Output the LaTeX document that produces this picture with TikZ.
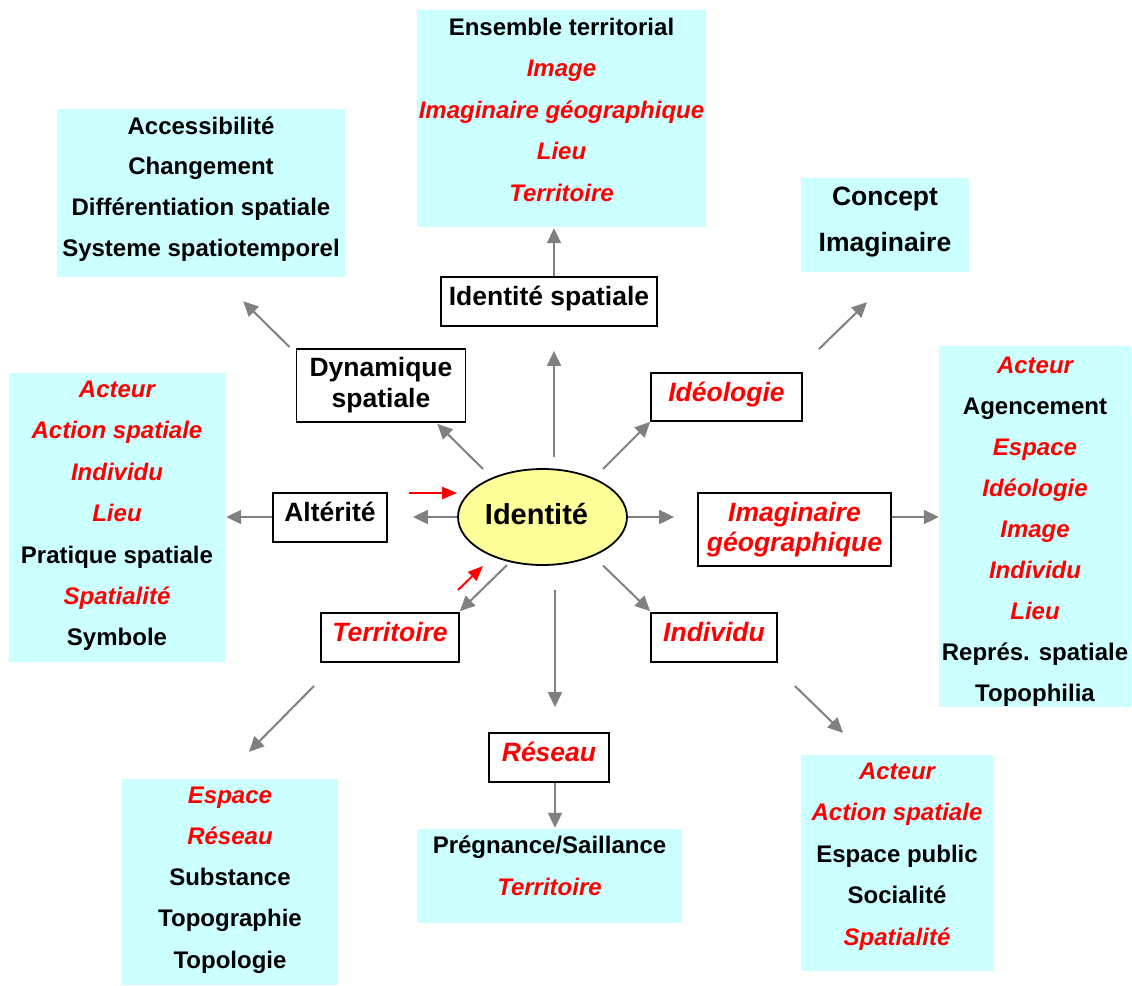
\documentclass[tikz,border=0pt]{standalone}
\usepackage{fontspec}
\setmainfont{Liberation Sans}
\usetikzlibrary{arrows.meta,shapes.geometric,calc}
\definecolor{cyanfill}{HTML}{CCFFFF}
\definecolor{yelfill}{HTML}{FFFF99}
\definecolor{arrgray}{HTML}{808080}
\definecolor{txtred}{HTML}{FF0000}
\newcommand\rtxt[1]{{\color{txtred}\itshape #1}}
\newcommand\stk[2]{\vtop{\baselineskip=#1\lineskiplimit=-1000pt\lineskip=0pt\tabskip=0pt\halign{\hfil##\hfil\cr#2\crcr}}}
\newcommand\strt{\rule[-6pt]{0pt}{25pt}}
\tikzset{
  cbox/.style={rectangle, fill=cyanfill, draw=none, inner sep=0pt},
  wbox/.style={rectangle, draw=black, line width=1.8pt, fill=white, inner sep=0pt,
    font=\fontsize{26.5pt}{30pt}\selectfont\bfseries},
  wone/.style={text height=17pt, text depth=9pt},
  ltext/.style={anchor=base, inner sep=0pt, font=\fontsize{24pt}{41.3pt}\selectfont\bfseries},
  arr/.style={draw=arrgray, line width=2pt, -{Triangle[length=15pt,width=14pt]}},
  rarr/.style={draw=txtred, line width=2pt, -{Triangle[length=15pt,width=12pt]}}
}
\begin{document}
\begin{tikzpicture}[x=1pt,y=-1pt]
\useasboundingbox (0,0) rectangle (1132,985);
% cyan boxes
\node[cbox, minimum width=288pt, minimum height=168pt] (cTL) at (201,193) {};
\node[cbox, minimum width=289pt, minimum height=217pt] (cT) at (561.5,118.5) {};
\node[cbox, minimum width=168pt, minimum height=94pt] (cTR) at (885,225) {};
\node[cbox, minimum width=192pt, minimum height=361pt] (cR) at (1035,526.5) {};
\node[cbox, minimum width=216pt, minimum height=289pt] (cL) at (117,517.5) {};
\node[cbox, minimum width=216pt, minimum height=206pt] (cBL) at (230,882) {};
\node[cbox, minimum width=265pt, minimum height=94pt] (cB) at (549.5,876) {};
\node[cbox, minimum width=192pt, minimum height=216pt] (cBR) at (897,863) {};
% list texts
\node[ltext] (cTLt) at (201,134) {\stk{40.7pt}{Accessibilité\cr Changement\cr Différentiation spatiale\cr Systeme spatiotemporel}};
\node[ltext] (cTt) at (561.5,35) {\stk{41.6pt}{Ensemble territorial\cr\rtxt{Image}\cr\rtxt{Imaginaire géographique}\cr\rtxt{Lieu}\cr\rtxt{Territoire}}};
\node[ltext, font=\fontsize{26.5pt}{46.7pt}\selectfont\bfseries] (cTRt) at (885,205) {\stk{46.7pt}{Concept\cr Imaginaire}};
\node[ltext] (cLt) at (117,397.5) {\stk{41.4pt}{\rtxt{Acteur}\cr\rtxt{Action spatiale}\cr\rtxt{Individu}\cr\rtxt{Lieu}\cr Pratique spatiale\cr\rtxt{Spatialité}\cr Symbole}};
\node[ltext] (cRt) at (1035,373.5) {\stk{41pt}{\rtxt{Acteur}\cr Agencement\cr\rtxt{Espace}\cr\rtxt{Idéologie}\cr\rtxt{Image}\cr\rtxt{Individu}\cr\rtxt{Lieu}\cr Représ. spatiale\cr Topophilia}};
\node[ltext] (cBLt) at (230,803) {\stk{41.3pt}{\rtxt{Espace}\cr\rtxt{Réseau}\cr Substance\cr Topographie\cr Topologie}};
\node[ltext] (cBt) at (549.5,853.3) {\stk{41.7pt}{Prégnance/Saillance\cr\rtxt{Territoire}}};
\node[ltext] (cBRt) at (897,779) {\stk{41.5pt}{\rtxt{Acteur}\cr\rtxt{Action spatiale}\cr Espace public\cr Socialité\cr\rtxt{Spatialité}}};
% white boxes
\node[wbox, wone, minimum width=216pt, minimum height=49pt] (isp) at (549,301.5) {Identité spatiale};
\node[wbox, minimum width=169pt, minimum height=73pt] (dyn) at (381,385.5) {\stk{30.7pt}{\strt Dynamique\cr spatiale\strt}};
\node[wbox, wone, minimum width=151pt, minimum height=48pt] (ideo) at (726.5,397) {\rtxt{Idéologie}};
\node[wbox, minimum width=193pt, minimum height=73pt] (imag) at (794.5,529.5) {\stk{30pt}{\strt\rtxt{Imaginaire}\cr\rtxt{géographique}\strt}};
\node[wbox, wone, minimum width=126pt, minimum height=49pt] (indiv) at (714,637.5) {\rtxt{Individu}};
\node[wbox, wone, minimum width=114pt, minimum height=49pt] (alt) at (330,517.5) {Altérité};
\node[wbox, wone, minimum width=138pt, minimum height=49pt] (terr) at (390,637.5) {\rtxt{Territoire}};
\node[wbox, wone, minimum width=120pt, minimum height=49pt] (res) at (549,757.5) {\rtxt{Réseau}};
% central ellipse
\node[ellipse, draw=black, line width=1.8pt, fill=yelfill, minimum width=169pt, minimum height=96pt, inner sep=0pt,
  font=\fontsize{29pt}{34pt}\selectfont\bfseries, text height=20pt, text depth=6pt] (ell) at (542.5,517) {\kern-12pt Identité};
% arrows
\draw[arr] ($(ell.north)+(11.5,-11)$) -- ($(isp.south)+(5,24)$);
\draw[arr] ($(isp.north)+(5,0)$) -- ($(cT.south)+(-7.5,1)$);
\draw[arr] ($(ell.center)+(-59.5,-48)$) -- ($(dyn.south east)+(-29,1)$);
\draw[arr] ($(dyn.north west)+(-6,-1)$) -- ($(cTL.south east)+(-102,24)$);
\draw[arr] ($(ell.center)+(60.5,-48)$) -- (ideo.south west);
\draw[arr] ($(ideo.north east)+(16,-23)$) -- ($(cTR.south)+(-18,30)$);
\draw[arr] (ell.east) -- ($(imag.west)+(-23,-12.5)$);
\draw[arr] ($(imag.east)+(0,-12.5)$) -- ($(cR.west)+(0,-9.5)$);
\draw[arr] (ell.west) -- ($(alt.east)+(25,-0.5)$);
\draw[arr] ($(alt.west)+(0,-0.5)$) -- ($(cL.east)+(1,-0.5)$);
\draw[arr] ($(ell.center)+(60.5,48.5)$) -- ($(indiv.north west)+(0,-1)$);
\draw[arr] ($(ell.center)+(-35.5,48)$) -- ($(terr.north east)+(0,-1)$);
\draw[arr] ($(ell.south)+(12.5,24)$) -- ($(res.north)+(6,-25)$);
\draw[arr] ($(res.south)+(6,0)$) -- ($(cB.north)+(5.5,-1)$);
\draw[arr] ($(terr.south west)+(-6,23)$) -- ($(cBL.north)+(19,-27)$);
\draw[arr] ($(indiv.south east)+(17,23)$) -- ($(cBR.north)+(-54,-22)$);
% red arrows
\draw[rarr] ($(ell.west)+(-48,-24)$) -- ($(ell.west)+(0,-24)$);
\draw[rarr] ($(ell.center)+(-84.5,73)$) -- ($(ell.center)+(-59.5,49)$);
\end{tikzpicture}
\end{document}
